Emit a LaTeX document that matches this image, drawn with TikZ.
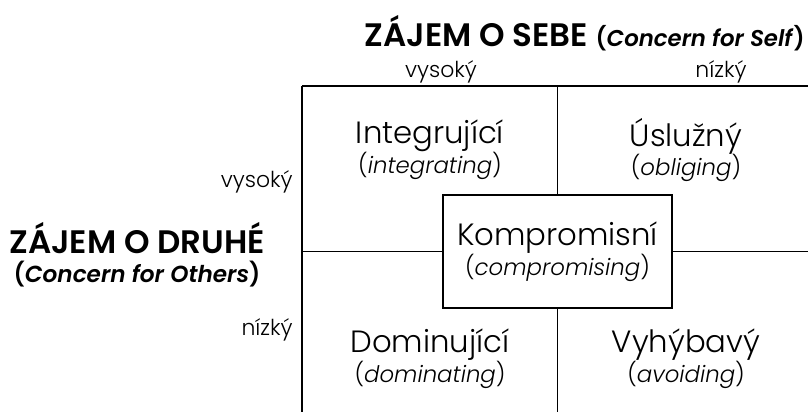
\documentclass[tikz,border=0pt]{standalone}
\usepackage{fontspec}
\setmainfont{Poppins}[UprightFont=* Light, ItalicFont=* Light Italic, BoldFont=* SemiBold, BoldItalicFont=* SemiBold Italic]
\usetikzlibrary{positioning}

\newcommand{\eng}[1]{{\fontsize{13}{15}\selectfont(\textit{#1})}}

\begin{document}
\begin{tikzpicture}[x=0.02cm,y=-0.02cm]
\tikzset{quad/.style={align=center, font=\fontsize{17.5}{20}\selectfont}}
\tikzset{lvl/.style={font=\fontsize{12.5}{14}\selectfont}}
\tikzset{axis/.style={inner sep=0pt, anchor=base, font=\bfseries\fontsize{18.5}{22}\selectfont}}
\tikzset{axisen/.style={inner sep=0pt, anchor=base, font=\bfseries\fontsize{13.2}{15}\selectfont}}
\tikzset{thin/.style={draw=black, line width=0.6pt}}
\tikzset{frame/.style={draw=black, line width=1.3pt}}

\useasboundingbox (0,0) rectangle (808,412);

% grid corners
\coordinate (TL) at (302,86);
\coordinate (TR) at (808,86);
\coordinate (BL) at (302,412);
\coordinate (TM) at (557.5,86);
\coordinate (BM) at (557.5,412);
\coordinate (LM) at (302,251.5);
\coordinate (RM) at (808,251.5);

\path[thin] (TM) edge (BM);
\path[thin] (LM) edge (RM);
\path[frame] (BL) edge (TL);
\path[frame] (TL) edge (TR);

\begin{scope}[every node/.style={quad}]
\node (int) at (430,150) {Integrující\\[-3pt]\eng{integrating}};
\node (obl) at (686,150) {Úslužný\\[-3pt]\eng{obliging}};
\node (dom) at (430,359) {Dominující\\[-3pt]\eng{dominating}};
\node (avo) at (686,359) {Vyhýbavý\\[-3pt]\eng{avoiding}};
\node[draw, line width=1.6pt, fill=white, minimum width=229*0.02cm, minimum height=113*0.02cm] (com) at (557.5,251.5) {Kompromisní\\[-3pt]\eng{compromising}};
\end{scope}

\begin{scope}[every node/.style={lvl, inner sep=0pt, anchor=base}]
\node (sh) at (441,78) {vysoký};
\node (sl) at (721,78) {nízký};
\node[anchor=base east] (oh) at (293,187) {vysoký};
\node[anchor=base east] (ol) at (293,335) {nízký};
\end{scope}

\node[axis, anchor=base east] (self) at (805,47) {ZÁJEM O SEBE {\fontsize{13}{15}\selectfont(\textit{Concern for Self})}};
\node[axis] (others) at (137,253) {ZÁJEM O DRUHÉ};
\node[axisen] (othersen) at (137,282) {(\textit{Concern for Others})};

\end{tikzpicture}
\end{document}
